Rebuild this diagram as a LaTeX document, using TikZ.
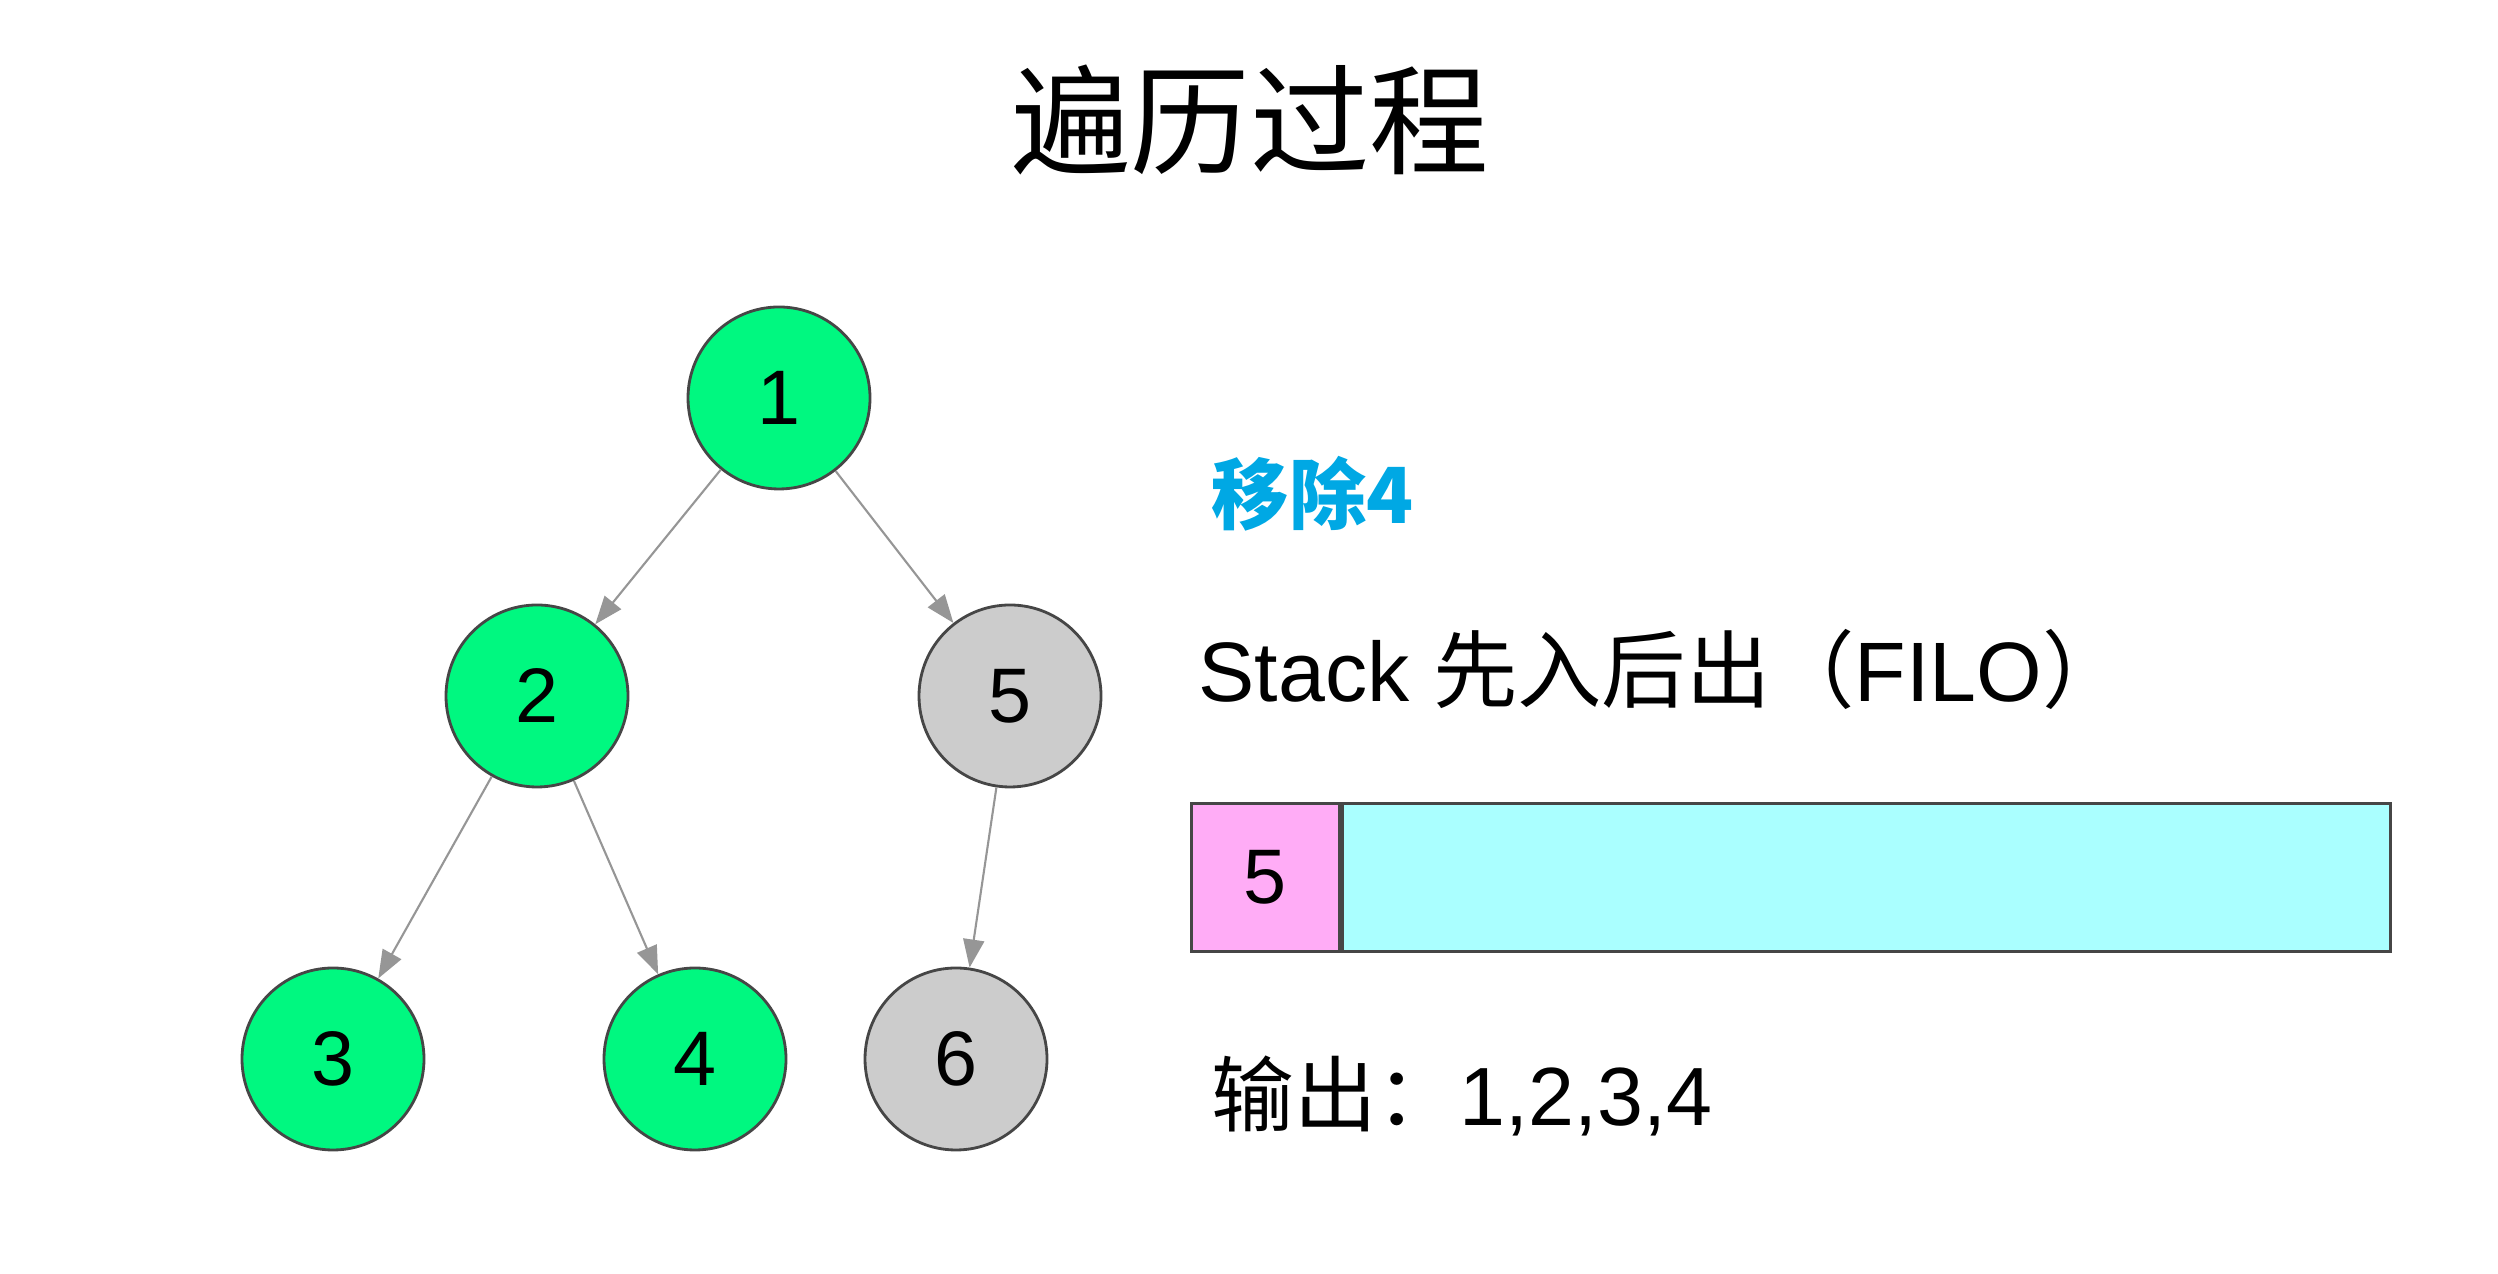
\documentclass[tikz,border=0pt]{standalone}
\usepackage{fontspec}
\setmainfont{Liberation Sans}
\newfontfamily\cjk{Noto Sans CJK SC}
\usetikzlibrary{positioning,arrows.meta}

\definecolor{green1}{RGB}{0,248,128}
\definecolor{gray1}{RGB}{204,204,204}
\definecolor{edge1}{RGB}{150,150,150}
\definecolor{border1}{RGB}{70,70,70}
\definecolor{pink1}{RGB}{255,172,246}
\definecolor{cyan1}{RGB}{170,255,255}
\definecolor{blue1}{RGB}{0,168,228}

\tikzstyle{visited} = [draw=border1, circle, fill=green1, line width=0.8pt, minimum size=1.82cm, inner sep=0pt, font=\fontsize{22}{26}\selectfont]
\tikzstyle{waiting} = [visited, fill=gray1]
\tikzstyle{arrow} = [draw=edge1, line width=0.6pt, -{Triangle[length=8pt, width=6pt]}]
\tikzstyle{label} = [anchor=west, inner sep=0pt, font=\fontsize{23.5}{28}\selectfont]
\tikzstyle{cell} = [draw=border1, line width=0.8pt, rectangle, inner sep=0pt, minimum height=1.48cm, font=\fontsize{22}{26}\selectfont]

\begin{document}
\begin{tikzpicture}
	\useasboundingbox (0,0) rectangle (24.98,12.74);

	\node (title) at (12.50,11.54) {\cjk\fontsize{34}{40}\selectfont 遍历过程};

	% Tree
	\node [visited] (n1) at (7.79,8.76) {1};
	\node [visited] (n2) at (5.37,5.78) {2};
	\node [waiting] (n5) at (10.10,5.78) {5};
	\node [visited] (n3) at (3.33,2.15) {3};
	\node [visited] (n4) at (6.95,2.15) {4};
	\node [waiting] (n6) at (9.56,2.15) {6};

	\draw [arrow] (n1) to (n2);
	\draw [arrow] (n1) to (n5);
	\draw [arrow] (n2) to (n3);
	\draw [arrow] (n2) to (n4);
	\draw [arrow] (n5) to (n6);

	% Stack
	\node [label, text=blue1, font=\fontsize{22}{26}\selectfont] (removed) at (12.11,7.80) {\cjk\bfseries 移除4};
	\node [label, font=\fontsize{24}{28}\selectfont] (stacktitle) at (11.98,6.05) {Stack {\cjk 先入后出（}FILO{\cjk ）}};
	\node [cell, fill=pink1, minimum width=1.48cm, anchor=south west] (top) at (11.90,3.21) {5};
	\node [cell, fill=cyan1, minimum width=10.48cm, right=0pt of top] (rest) {};

	% Output
	\node [label] (output) at (12.11,1.78) {{\cjk 输出：}1,2,3,4};
\end{tikzpicture}
\end{document}
